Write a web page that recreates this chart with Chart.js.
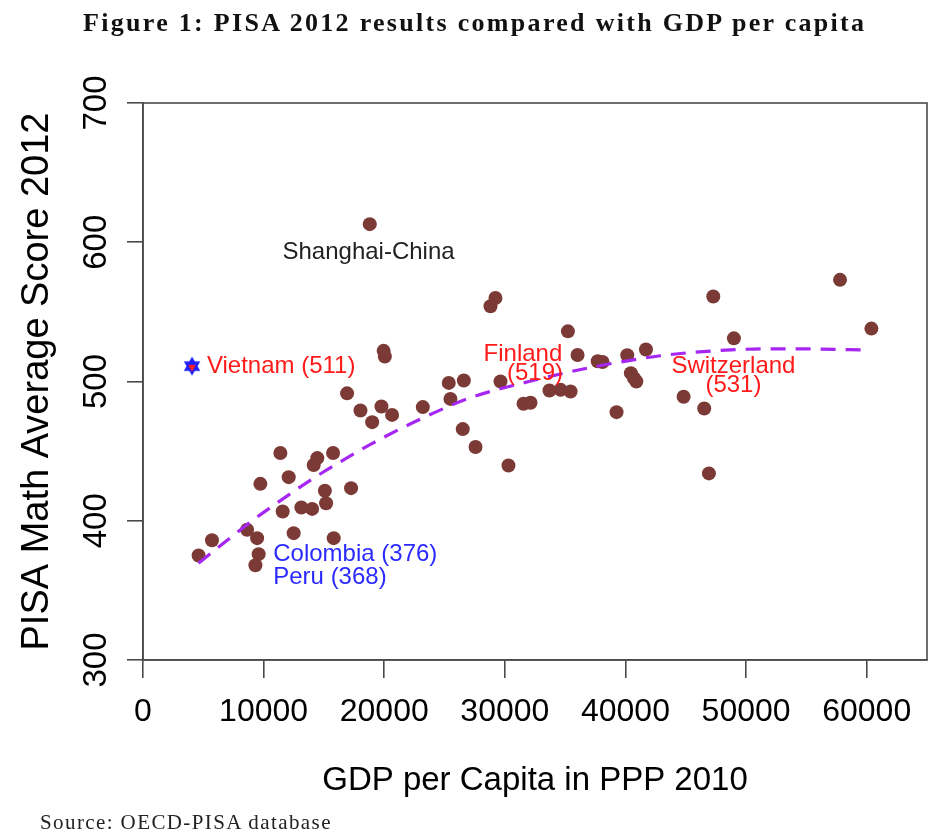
<!DOCTYPE html>
<html>
<head>
<meta charset="utf-8">
<script src="https://cdn.jsdelivr.net/npm/chart.js@4.4.1/dist/chart.umd.min.js"></script>
<style>
  html, body { margin: 0; padding: 0; background: #fff; }
  #wrap { position: relative; width: 936px; height: 835px; overflow: hidden; }
  #title { position: absolute; left: 83px; top: 8px; white-space: nowrap;
           font-family: "Liberation Serif", serif; font-weight: bold; font-size: 26px;
           letter-spacing: 2.3px; color: #111; }
  #source { position: absolute; left: 40px; top: 810px; white-space: nowrap;
            font-family: "Liberation Serif", serif; font-size: 21px; letter-spacing: 1.4px; color: #222; }
  canvas { position: absolute; left: 0; top: 0; }
</style>
</head>
<body>
<div id="wrap">
  <canvas id="c" width="936" height="835"></canvas>
  <div id="title">Figure 1: PISA 2012 results compared with GDP per capita</div>
  <div id="source">Source: OECD-PISA database</div>
</div>
<script>
// ---- data ----
const gdp = [4610, 5720, 8630, 9460, 9590, 9320, 9730, 11390, 11580, 12080,
             12490, 13130, 14020, 14150, 14450, 15760, 15080, 15180, 15810, 17250,
             16920, 18030, 19000, 19770, 20650, 19950, 20050, 18800, 23200, 25350,
             25490, 26600, 26510, 27570, 28810, 29220, 29640, 30300, 31550, 32130,
             33700, 34620, 35450, 35230, 36030, 37700, 38100, 39260, 40150, 41700,
             40450, 40700, 40900, 44820, 46530, 46920, 47280, 48990, 57790, 60390];
const score = [375, 386, 393.5, 387.5, 376, 368, 426.5, 448.6, 406.6, 431.3,
               391.1, 409.5, 408.5, 440, 445, 448.6, 421.5, 412.6, 387.5, 423.4,
               491.5, 479.2, 470.8, 482, 476, 522, 518, 613, 481.6, 499,
               487.5, 500.7, 465.8, 453, 554, 560, 500, 439.7, 484, 484.7,
               493.5, 494, 492.8, 536, 519, 514.5, 514, 478, 518.8, 523,
               506, 502.4, 500, 489, 480.6, 434, 561, 531, 573, 538];
const vietnamGdp = [4065];
const vietnamScore = [511];
const trendGdp = [4600, 8300, 10000, 14400, 16600, 18900, 23000, 27200, 32000, 36500, 39900, 42900, 47300, 52000, 56200, 60000];
const trendScore = [369.5, 395, 406, 432, 443.5, 455, 473, 488.5, 500, 509, 514.5, 518.5, 522, 523.5, 523.3, 522.6];
const xTicks = [0, 10000, 20000, 30000, 40000, 50000, 60000];
const yTicks = [300, 400, 500, 600, 700];
const annotations = [
  {text: 'Shanghai-China', x: 18700, y: 593, color: '#222', align: 'center'},
  {text: 'Vietnam (511)', x: 5300, y: 511, color: '#ff1a1a', align: 'left'},
  {text: 'Finland', x: 31500, y: 519.5, color: '#ff1a1a', align: 'center'},
  {text: '(519)', x: 32500, y: 506, color: '#ff1a1a', align: 'center'},
  {text: 'Switzerland', x: 48950, y: 511, color: '#ff1a1a', align: 'center'},
  {text: '(531)', x: 48950, y: 497, color: '#ff1a1a', align: 'center'},
  {text: 'Colombia (376)', x: 10800, y: 376, color: '#2a2aff', align: 'left'},
  {text: 'Peru (368)', x: 10800, y: 359, color: '#2a2aff', align: 'left'}
];

// Vietnam marker: blue hexagram with red centre
function makeStar() {
  const c = document.createElement('canvas');
  c.width = 22; c.height = 22;
  const g = c.getContext('2d');
  const cx = 11, cy = 11, r = 9.5;
  g.fillStyle = '#1f1fff';
  for (const rot of [-Math.PI / 2, Math.PI / 2]) {
    g.beginPath();
    for (let k = 0; k < 3; k++) {
      const a = rot + k * 2 * Math.PI / 3;
      const px = cx + r * Math.cos(a), py = cy + r * Math.sin(a);
      k ? g.lineTo(px, py) : g.moveTo(px, py);
    }
    g.closePath(); g.fill();
  }
  g.fillStyle = '#ff2020';
  g.beginPath();
  const r2 = 4.5;
  for (let k = 0; k < 3; k++) {
    const a = Math.PI / 2 + k * 2 * Math.PI / 3;
    const px = cx + r2 * Math.cos(a), py = cy + 1 + r2 * Math.sin(a);
    k ? g.lineTo(px, py) : g.moveTo(px, py);
  }
  g.closePath(); g.fill();
  return c;
}

const SANS = '"Liberation Sans", Arial, sans-serif';
const AXIS_COLOR = '#4a4a4a';

const extras = {
  id: 'extras',
  afterDraw(chart) {
    const {ctx, chartArea: a, scales: {x, y}} = chart;
    ctx.save();
    // box
    ctx.strokeStyle = AXIS_COLOR;
    ctx.lineWidth = 1.6;
    ctx.strokeRect(a.left, a.top, a.right - a.left, a.bottom - a.top);
    // y tick labels, rotated as in the original
    ctx.fillStyle = '#000';
    ctx.font = '33px ' + SANS;
    ctx.textAlign = 'center';
    ctx.textBaseline = 'middle';
    for (const v of yTicks) {
      ctx.save();
      ctx.translate(a.left - 46, y.getPixelForValue(v));
      ctx.rotate(-Math.PI / 2);
      ctx.fillText(String(v), 0, 0);
      ctx.restore();
    }
    // annotations
    ctx.font = '24px ' + SANS;
    for (const t of annotations) {
      ctx.fillStyle = t.color;
      ctx.textAlign = t.align;
      ctx.fillText(t.text, x.getPixelForValue(t.x), y.getPixelForValue(t.y));
    }
    ctx.restore();
  }
};

new Chart(document.getElementById('c'), {
  type: 'scatter',
  data: {
    datasets: [
      {
        label: 'Trend', type: 'line',
        data: trendGdp.map((v, i) => ({x: v, y: trendScore[i]})),
        borderColor: '#a626f2', borderWidth: 3.2, borderDash: [15, 10],
        pointRadius: 0, fill: false, cubicInterpolationMode: 'monotone', order: 0
      },
      {
        label: 'Countries',
        data: gdp.map((v, i) => ({x: v, y: score[i]})),
        backgroundColor: '#7b3a35', borderColor: '#7b3a35', borderWidth: 0,
        pointRadius: 7, order: 1
      },
      {
        label: 'Vietnam',
        data: vietnamGdp.map((v, i) => ({x: v, y: vietnamScore[i]})),
        pointStyle: makeStar(), order: -1
      }
    ]
  },
  options: {
    responsive: false, animation: false, events: [],
    layout: {padding: {top: 103, right: 9, left: 0, bottom: 0}},
    plugins: {legend: {display: false}, tooltip: {enabled: false}},
    scales: {
      x: {
        type: 'linear', min: 0, max: 65000,
        afterBuildTicks: s => { s.ticks = xTicks.map(v => ({value: v})); },
        afterFit: s => { s.height = 175; },
        grid: {drawOnChartArea: false, drawTicks: true, tickLength: 18, color: AXIS_COLOR, lineWidth: 1.6},
        border: {display: true, color: AXIS_COLOR, width: 1.6},
        ticks: {color: '#000', font: {size: 32, family: SANS}, padding: 15, maxRotation: 0,
                autoSkip: false, callback: v => String(v)},
        title: {display: true, text: 'GDP per Capita in PPP 2010', color: '#000',
                font: {size: 33, family: SANS}, padding: {top: 0, bottom: 34}}
      },
      y: {
        type: 'linear', min: 300, max: 700,
        afterBuildTicks: s => { s.ticks = yTicks.map(v => ({value: v})); },
        afterFit: s => { s.width = 143; },
        grid: {drawOnChartArea: false, drawTicks: true, tickLength: 16, color: AXIS_COLOR, lineWidth: 1.6},
        border: {display: true, color: AXIS_COLOR, width: 1.6},
        ticks: {display: false},
        title: {display: true, text: 'PISA Math Average Score 2012', color: '#000',
                font: {size: 38, family: SANS}, padding: {top: 15, bottom: 0}}
      }
    }
  },
  plugins: [extras]
});
</script>
</body>
</html>
